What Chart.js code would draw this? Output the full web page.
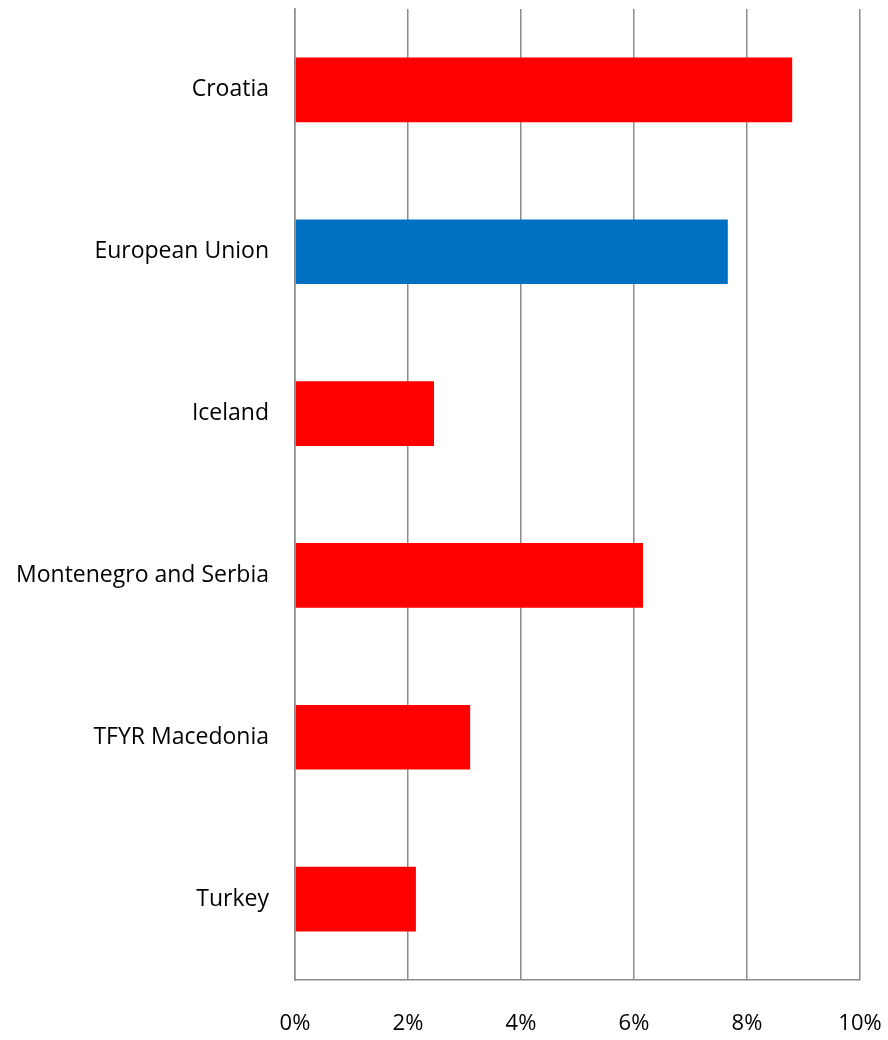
<!DOCTYPE html>
<html>
<head>
<meta charset="utf-8">
<script src="https://cdn.jsdelivr.net/npm/chart.js@4"></script>
<style>
  html, body { margin: 0; padding: 0; background: #fff; }
  #wrap { width: 888px; height: 1040px; }
</style>
</head>
<body>
<div id="wrap"><canvas id="barChart" width="888" height="1040"></canvas></div>
<script>
// Share of total, per country
var countries = ['Croatia', 'European Union', 'Iceland', 'Montenegro and Serbia', 'TFYR Macedonia', 'Turkey'];
var shares = [8.8, 7.66, 2.46, 6.16, 3.1, 2.14];
var barColors = ['#FF0000', '#0070C0', '#FF0000', '#FF0000', '#FF0000', '#FF0000'];
var xTicks = [0, 2, 4, 6, 8, 10];

var ctx = document.getElementById('barChart').getContext('2d');

var myChart = new Chart(ctx, {
    type: 'bar',
    data: {
        labels: countries,
        datasets: [{
            data: shares,
            backgroundColor: barColors,
            borderWidth: 0,
            categoryPercentage: 0.4,
            barPercentage: 1.0
        }]
    },
    options: {
        indexAxis: 'y',
        responsive: false,
        animation: false,
        layout: {
            padding: { top: 9, right: 28, bottom: 0, left: 0 }
        },
        plugins: {
            legend: { display: false },
            tooltip: { enabled: false }
        },
        scales: {
            x: {
                min: 0,
                max: 10,
                afterBuildTicks: function(scale) {
                    scale.ticks = xTicks.map(function(v) { return { value: v }; });
                },
                afterFit: function(scale) {
                    // fixed axis band, no extra side padding from the labels
                    scale.height = 60;
                    scale.paddingLeft = 0;
                    scale.paddingRight = 0;
                },
                border: { display: true, color: '#8c8c8c', width: 1.5 },
                grid: { color: '#8c8c8c', lineWidth: 1.5, drawTicks: false },
                ticks: {
                    padding: 31,
                    color: '#000',
                    font: { family: 'Open Sans', size: 22 },
                    callback: function(v) { return v + '%'; }
                }
            },
            y: {
                afterFit: function(scale) {
                    scale.width = 295;
                    scale.paddingTop = 0;
                    scale.paddingBottom = 0;
                },
                border: { display: true, color: '#8c8c8c', width: 1.5 },
                grid: { display: false, drawTicks: false },
                ticks: {
                    padding: 26,
                    color: '#000',
                    font: { family: 'Open Sans', size: 23 }
                }
            }
        }
    }
});
</script>
</body>
</html>
